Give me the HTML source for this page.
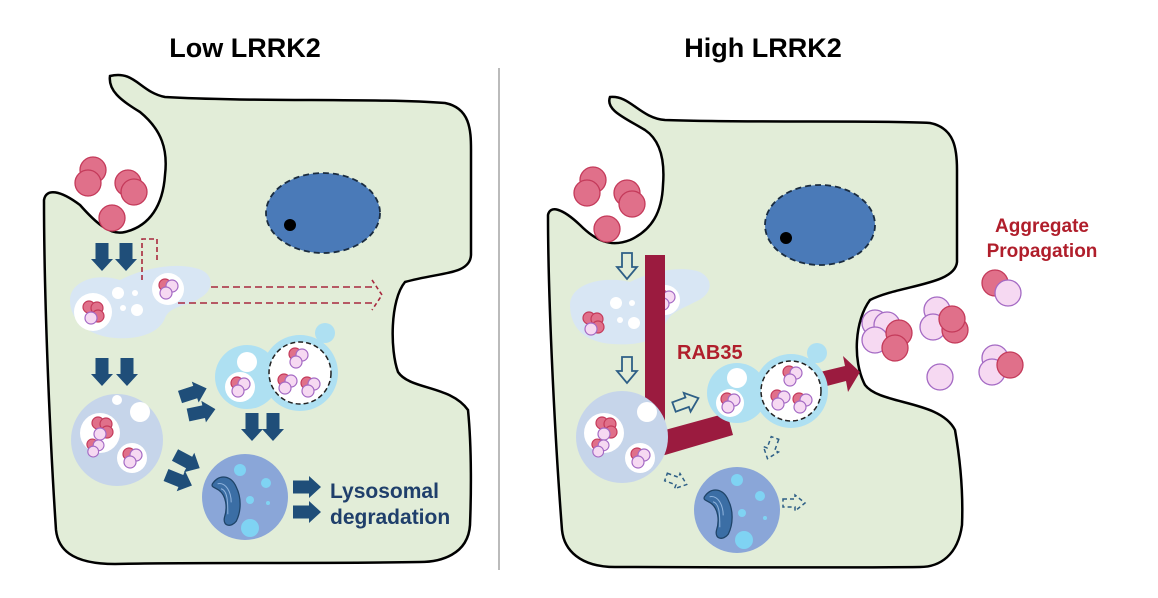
<!DOCTYPE html>
<html><head><meta charset="utf-8"><style>
html,body{margin:0;padding:0;background:#fff}
svg{display:block}
text{font-family:"Liberation Sans",sans-serif;font-weight:bold}
</style></head><body>
<svg width="1158" height="598" viewBox="0 0 1158 598" xmlns="http://www.w3.org/2000/svg">
<defs>
<path id="ba" d="M0,-6.5 L16,-6.5 L16,-11 L28,0 L16,11 L16,6.5 L0,6.5 Z"/>
<path id="ha" d="M0,-5 L14,-5 L14,-10 L26,0 L14,10 L14,5 L0,5 Z" fill="none" stroke="#2e5f86" stroke-width="1.8"/>
<path id="da" d="M0,-4 L12,-4 L12,-8 L22,0 L12,8 L12,4 L0,4 Z" fill="none" stroke="#2e5f86" stroke-width="1.5" stroke-dasharray="4,3"/>
<g id="cl">
<circle cx="-3" cy="-4" r="6" fill="#e0708a" stroke="#c43a5a" stroke-width="1.2"/>
<circle cx="4" cy="-3" r="6" fill="#f6d9f2" stroke="#a46ac4" stroke-width="1.2"/>
<circle cx="-2" cy="4" r="6" fill="#f6d9f2" stroke="#a46ac4" stroke-width="1.2"/>
</g>
<g id="cl4">
<circle cx="-4" cy="-5" r="6" fill="#e0708a" stroke="#c43a5a" stroke-width="1.2"/>
<circle cx="4" cy="-4" r="6" fill="#e0708a" stroke="#c43a5a" stroke-width="1.2"/>
<circle cx="5" cy="4" r="6" fill="#e0708a" stroke="#c43a5a" stroke-width="1.2"/>
<circle cx="-2" cy="6" r="6" fill="#f6d9f2" stroke="#a46ac4" stroke-width="1.2"/>
</g>
<g id="mito">
<path d="M-30,-18 C-22,-30 -8,-28 -2,-14 C4,-2 4,14 -2,26 C-8,34 -18,32 -16,22 C-12,10 -14,-4 -22,-10 C-28,-14 -32,-14 -30,-18 Z" fill="#3b6ea5" stroke="#1f4468" stroke-width="1.5"/>
<path d="M-24,-18 C-14,-20 -8,-8 -8,4 M-20,-12 C-12,-10 -12,4 -12,18" fill="none" stroke="#8fb3dd" stroke-width="1.2"/>
</g>
</defs>

<text x="245" y="57" font-size="27" text-anchor="middle" fill="#000">Low LRRK2</text>
<text x="763" y="57" font-size="27" text-anchor="middle" fill="#000">High LRRK2</text>
<line x1="499" y1="68" x2="499" y2="570" stroke="#bbb" stroke-width="2"/>

<!-- LEFT CELL -->
<path d="M110,76 C135,70 140,92 165,97 C250,102 380,98 445,103 C470,108 471,130 471,150 L471,255 C470,275 440,272 405,282 C390,300 390,350 398,372 C410,390 450,385 468,410 C472,450 471,500 470,525 C468,555 440,562 420,562 C320,564 200,562 115,564 C70,564 58,548 56,530 C50,440 44,300 44,200 C46,188 60,190 80,205 C95,222 110,236 125,232 C150,226 163,205 165,175 C168,150 162,130 140,112 C120,100 108,90 110,76 Z" fill="#e2edd8" stroke="#000" stroke-width="2.5"/>
<ellipse cx="323" cy="213" rx="57" ry="40" fill="#4a7ab8" stroke="#1a2c40" stroke-width="1.8" stroke-dasharray="6,4"/>
<circle cx="290" cy="225" r="6" fill="#000"/>
<g fill="#e0708a" stroke="#c43a5a" stroke-width="1.3">
<circle cx="93" cy="170" r="13"/><circle cx="88" cy="183" r="13"/><circle cx="128" cy="183" r="13"/><circle cx="134" cy="192" r="13"/><circle cx="112" cy="218" r="13"/>
</g>
<g fill="#1f4e79">
<use href="#ba" transform="translate(102,243) rotate(90)"/>
<use href="#ba" transform="translate(126,243) rotate(90)"/>
</g>
<path d="M70,300 C70,282 95,272 120,280 C140,270 170,262 195,268 C215,272 215,290 200,298 C190,306 170,305 165,318 C160,332 140,340 115,338 C90,336 70,322 70,300 Z" fill="#d8e6f4"/>
<circle cx="93" cy="312" r="19" fill="#fff"/><use href="#cl4" transform="translate(93,312)"/>
<circle cx="168" cy="289" r="16" fill="#fff"/><use href="#cl" transform="translate(168,289)"/>
<g fill="#fff"><circle cx="118" cy="293" r="6"/><circle cx="135" cy="293" r="3"/><circle cx="137" cy="310" r="6"/><circle cx="123" cy="308" r="3"/></g>
<path d="M142,280 L142,239 L157,239 L157,263" fill="none" stroke="#a8283e" stroke-width="1.6" stroke-dasharray="5,3"/>
<g stroke="#a8283e" stroke-width="1.6" fill="none">
<line x1="211" y1="287" x2="372" y2="287" stroke-dasharray="7,4"/>
<line x1="178" y1="303" x2="372" y2="303" stroke-dasharray="7,4"/>
<path d="M372,280 L382,295 L372,310" stroke-dasharray="4,3"/>
</g>
<g fill="#1f4e79">
<use href="#ba" transform="translate(102,358) rotate(90)"/>
<use href="#ba" transform="translate(127,358) rotate(90)"/>
</g>
<circle cx="117" cy="440" r="46" fill="#c6d5ea"/>
<circle cx="100" cy="433" r="20" fill="#fff"/><use href="#cl4" transform="translate(102,428)"/><use href="#cl" transform="translate(95,448) scale(0.9)"/>
<circle cx="132" cy="458" r="15" fill="#fff"/><use href="#cl" transform="translate(132,458)"/>
<circle cx="140" cy="412" r="10" fill="#fff"/><circle cx="117" cy="400" r="5" fill="#fff"/>
<circle cx="325" cy="333" r="10" fill="#aee0f2"/>
<circle cx="247" cy="377" r="32" fill="#aee0f2"/>
<circle cx="300" cy="373" r="38" fill="#aee0f2"/>
<circle cx="300" cy="373" r="31" fill="#fff" stroke="#222" stroke-width="1.5" stroke-dasharray="5,3"/>
<circle cx="247" cy="362" r="10" fill="#fff"/>
<circle cx="240" cy="387" r="15" fill="#fff"/><use href="#cl" transform="translate(240,387)"/>
<use href="#cl" transform="translate(298,358)"/><use href="#cl" transform="translate(287,384)"/><use href="#cl" transform="translate(310,387)"/>
<g fill="#1f4e79">
<use href="#ba" transform="translate(180,397) rotate(-18)"/>
<use href="#ba" transform="translate(188,415) rotate(-12)"/>
<use href="#ba" transform="translate(252,413) rotate(90)"/>
<use href="#ba" transform="translate(273,413) rotate(90)"/>
<use href="#ba" transform="translate(175,455) rotate(28)"/>
<use href="#ba" transform="translate(166,475) rotate(22)"/>
<use href="#ba" transform="translate(293,487)"/>
<use href="#ba" transform="translate(293,512)"/>
</g>
<circle cx="245" cy="497" r="43" fill="#8aa6d8"/>
<use href="#mito" transform="translate(238,499) scale(0.85)"/>
<g fill="#7fd3f3"><circle cx="240" cy="470" r="6"/><circle cx="266" cy="483" r="5"/><circle cx="250" cy="500" r="4"/><circle cx="268" cy="503" r="2"/><circle cx="250" cy="528" r="9"/></g>
<text x="330" y="498" font-size="21" fill="#1f3f6b">Lysosomal</text>
<text x="330" y="524" font-size="21" fill="#1f3f6b">degradation</text>

<!-- RIGHT CELL -->
<path d="M610,97 C630,95 640,118 665,120 C750,123 880,120 930,123 C955,128 957,150 957,170 L957,262 C955,285 900,285 870,300 C855,320 852,360 865,385 C880,405 940,400 955,430 C962,470 963,500 962,525 C958,555 940,567 920,567 C820,568 700,567 615,567 C580,567 564,550 562,530 C555,440 548,300 548,215 C550,205 562,208 580,225 C595,240 610,248 630,240 C652,230 662,212 663,185 C665,160 660,140 645,130 C625,118 605,110 610,97 Z" fill="#e2edd8" stroke="#000" stroke-width="2.5"/>
<ellipse cx="820" cy="225" rx="55" ry="40" fill="#4a7ab8" stroke="#1a2c40" stroke-width="1.8" stroke-dasharray="6,4"/>
<circle cx="786" cy="238" r="6" fill="#000"/>
<g fill="#e0708a" stroke="#c43a5a" stroke-width="1.3">
<circle cx="593" cy="180" r="13"/><circle cx="587" cy="193" r="13"/><circle cx="627" cy="193" r="13"/><circle cx="632" cy="204" r="13"/><circle cx="607" cy="229" r="13"/>
</g>
<use href="#ha" transform="translate(627,253) rotate(90)"/>
<use href="#ha" transform="translate(627,357) rotate(90)"/>
<path d="M570,305 C570,285 600,275 630,282 C650,272 680,265 700,272 C715,280 712,295 695,302 C680,310 670,312 665,325 C660,340 640,346 612,344 C585,342 570,328 570,305 Z" fill="#d8e6f4"/>
<use href="#cl4" transform="translate(593,323)"/>
<circle cx="665" cy="300" r="15" fill="#fff"/><use href="#cl" transform="translate(665,300)"/>
<g fill="#fff"><circle cx="616" cy="303" r="6"/><circle cx="632" cy="303" r="3"/><circle cx="634" cy="323" r="6"/><circle cx="620" cy="320" r="3"/></g>
<path d="M645,255 L665,255 L665,430 L727,413 L733,435 L665,455 L645,458 Z" fill="#9b1b3f"/>
<path d="M820,372 L845,366 L843,356 L860,372 L848,392 L846,381 L823,387 Z" fill="#9b1b3f"/>
<text x="677" y="359" font-size="20" fill="#b01e2b">RAB35</text>
<circle cx="622" cy="437" r="46" fill="#c6d5ea"/>
<circle cx="604" cy="433" r="20" fill="#fff"/><use href="#cl4" transform="translate(606,428)"/><use href="#cl" transform="translate(600,448) scale(0.9)"/>
<circle cx="640" cy="458" r="15" fill="#fff"/><use href="#cl" transform="translate(640,458)"/>
<circle cx="647" cy="412" r="10" fill="#fff"/>
<use href="#ha" transform="translate(674,407) rotate(-20)"/>
<circle cx="817" cy="353" r="10" fill="#aee0f2"/>
<circle cx="737" cy="393" r="30" fill="#aee0f2"/>
<circle cx="791" cy="391" r="37" fill="#aee0f2"/>
<circle cx="791" cy="391" r="30" fill="#fff" stroke="#222" stroke-width="1.5" stroke-dasharray="5,3"/>
<circle cx="737" cy="378" r="10" fill="#fff"/>
<circle cx="730" cy="403" r="14" fill="#fff"/><use href="#cl" transform="translate(730,403)"/>
<use href="#cl" transform="translate(792,376)"/><use href="#cl" transform="translate(780,400)"/><use href="#cl" transform="translate(802,403)"/>
<circle cx="737" cy="510" r="43" fill="#8aa6d8"/>
<use href="#mito" transform="translate(730,512) scale(0.85)"/>
<g fill="#7fd3f3"><circle cx="737" cy="480" r="6"/><circle cx="760" cy="496" r="5"/><circle cx="742" cy="513" r="4"/><circle cx="765" cy="518" r="2"/><circle cx="744" cy="540" r="9"/></g>
<use href="#da" transform="translate(666,477) rotate(20)"/>
<use href="#da" transform="translate(775,438) rotate(110)"/>
<use href="#da" transform="translate(783,503)"/>
<text x="1042" y="232" font-size="19" text-anchor="middle" fill="#b01e2b">Aggregate</text>
<text x="1042" y="257" font-size="19" text-anchor="middle" fill="#b01e2b">Propagation</text>
<g stroke-width="1.3">
<circle cx="995" cy="283" r="13" fill="#e0708a" stroke="#c43a5a"/><circle cx="1008" cy="293" r="13" fill="#f6d9f2" stroke="#a46ac4"/>
<circle cx="875" cy="323" r="13" fill="#f6d9f2" stroke="#a46ac4"/><circle cx="887" cy="325" r="13" fill="#f6d9f2" stroke="#a46ac4"/><circle cx="875" cy="340" r="13" fill="#f6d9f2" stroke="#a46ac4"/>
<circle cx="899" cy="333" r="13" fill="#e0708a" stroke="#c43a5a"/><circle cx="895" cy="348" r="13" fill="#e0708a" stroke="#c43a5a"/>
<circle cx="937" cy="310" r="13" fill="#f6d9f2" stroke="#a46ac4"/><circle cx="933" cy="327" r="13" fill="#f6d9f2" stroke="#a46ac4"/>
<circle cx="955" cy="330" r="13" fill="#e0708a" stroke="#c43a5a"/><circle cx="952" cy="319" r="13" fill="#e0708a" stroke="#c43a5a"/>
<circle cx="940" cy="377" r="13" fill="#f6d9f2" stroke="#a46ac4"/>
<circle cx="995" cy="358" r="13" fill="#f6d9f2" stroke="#a46ac4"/><circle cx="992" cy="372" r="13" fill="#f6d9f2" stroke="#a46ac4"/><circle cx="1010" cy="365" r="13" fill="#e0708a" stroke="#c43a5a"/>
</g>
</svg>
</body></html>
